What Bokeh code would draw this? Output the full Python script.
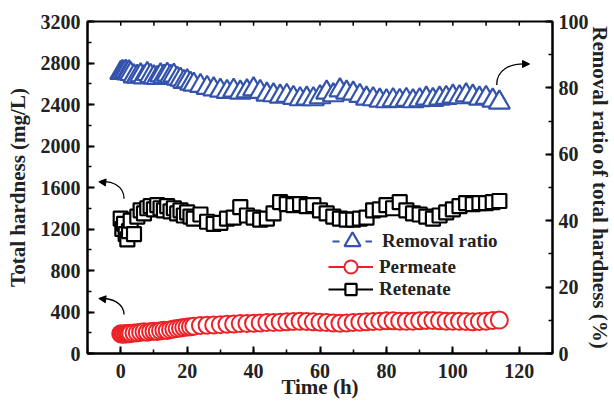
from bokeh.plotting import figure
from bokeh.models import (Range1d, LinearAxis, SingleIntervalTicker, Legend, LegendItem,
                          Arrow, NormalHead)
from bokeh.embed import file_html
from bokeh.resources import INLINE

# ---------------- data ----------------
time_h = [0, 0.5, 1, 1.5, 2, 2.5, 3, 4, 5, 6, 7, 8, 9, 10, 11, 12, 13, 14, 15, 16,
          17, 18, 19, 20, 21, 22, 24, 26, 28, 30, 32, 34, 36, 38, 40, 42, 44, 46, 48,
          50, 52, 54, 56, 58, 60, 62, 64, 66, 68, 70, 72, 74, 76, 78, 80, 82, 84, 86,
          88, 90, 92, 94, 96, 98, 100, 102, 104, 106, 108, 110, 112, 114]

removal_ratio = [84.5, 84.8, 84.6, 84.9, 84.4, 84.7, 84.2, 83.5, 83.4, 83.8, 83.2, 84.2,
                 83.6, 83.2, 83.0, 83.8, 83.4, 84.0, 83.4, 83.7, 82.8, 82.5, 81.8, 82.0,
                 81.3, 81.0,
                 80.6, 80.0, 79.6, 79.2, 78.8, 79.2, 78.6, 79.0, 79.6, 78.8, 78.0, 77.8,
                 77.4, 77.6, 77.0, 76.6, 76.8, 76.6, 77.2, 78.6, 77.8, 79.3, 78.6, 78.3,
                 77.6, 76.8, 76.6, 76.2, 76.0, 76.3, 76.1, 76.4, 76.0, 76.3, 76.8, 76.4,
                 76.8, 77.0, 77.4, 77.2, 77.8, 77.4, 76.8, 77.0, 76.2, 75.6]

permeate = [190, 185, 190, 188, 192, 190, 195, 198, 200, 205, 210, 205, 212, 215, 212,
            220, 225, 222, 230, 235, 240, 245, 250, 255, 258, 262,
            270, 272, 275, 278, 282, 285, 288, 290, 292, 295, 298, 300, 302, 305, 308,
            310, 308, 305, 302, 298, 295, 292, 295, 300, 302, 305, 308, 312, 315, 315,
            312, 310, 312, 315, 318, 318, 315, 312, 312, 310, 308, 305, 308, 312, 318, 322]

retenate = [1300, 1200, 1250, 1150, 1100, 1180, 1280, 1150, 1320, 1380, 1350, 1400, 1420,
            1390, 1430, 1400, 1380, 1420, 1370, 1400, 1350, 1380, 1330, 1360, 1320, 1300,
            1340, 1270, 1250, 1260, 1300, 1310, 1410, 1330, 1310, 1290, 1300, 1350, 1460,
            1440, 1430, 1440, 1420, 1430, 1380, 1350, 1320, 1300, 1290, 1290, 1300, 1310,
            1380, 1390, 1430, 1400, 1460, 1380, 1350, 1340, 1320, 1300, 1330, 1360, 1390,
            1420, 1450, 1440, 1450, 1450, 1460, 1470]

labels = ["Removal ratio", "Permeate", "Retenate"]

# tick values of the (label-less) top frame edge
top_ticks = [-10, 0, 10, 20, 30, 40, 50, 60, 70, 80, 90, 100, 110, 120, 130]

# annotation arrows (curve start, controls, end) in data units
arrow_left_x = [[1.0, 1.0, -2.6, -6.3], [1.0, 1.0, -2.6, -6.3]]
arrow_left_y = [[1492, 1617, 1665, 1655], [375, 481, 539, 529]]
arrow_right_x = [113.2, 113.2, 117.0, 122.6]
arrow_right_y = [80.9, 85.4, 87.5, 87.2]

BLUE = "#3453ab"
RED = "#ec2127"
BLACK = "#000000"
FONT = "Liberation Serif"

p = figure(width=614, height=401, output_backend="svg", toolbar_location=None,
           x_range=Range1d(-10, 130), y_range=Range1d(0, 3200),
           min_border_left=87, min_border_right=62, min_border_top=21, min_border_bottom=47,
           background_fill_color="white", border_fill_color="white")
p.extra_y_ranges = {"ratio": Range1d(0, 100)}
p.xgrid.visible = False
p.ygrid.visible = False
p.outline_line_color = "black"
p.outline_line_width = 2


def style_axis(ax, interval, nminor, title=None, title_size="21px"):
    ax.ticker = SingleIntervalTicker(interval=interval, num_minor_ticks=nminor)
    ax.axis_line_width = 2
    ax.axis_line_color = "black"
    ax.major_tick_in = 7
    ax.major_tick_out = 0
    ax.minor_tick_in = 4
    ax.minor_tick_out = 0
    ax.major_tick_line_width = 2
    ax.minor_tick_line_width = 1.5
    ax.major_label_text_font = FONT
    ax.major_label_text_font_style = "bold"
    ax.major_label_text_font_size = "20px"
    ax.major_label_text_color = "#222222"
    if title:
        ax.axis_label = title
        ax.axis_label_text_font = FONT
        ax.axis_label_text_font_style = "bold"
        ax.axis_label_text_font_size = title_size
        ax.axis_label_text_color = "#222222"


xax = p.xaxis[0]
style_axis(xax, 20, 2, "Time (h)")
xax.major_label_standoff = 10
xax.axis_label_standoff = -6

yax = p.yaxis[0]
style_axis(yax, 400, 2, "Total hardness (mg/L)")
yax.major_label_standoff = 7
yax.axis_label_standoff = 8

rax = LinearAxis(y_range_name="ratio")
style_axis(rax, 20, 2, "Removal ratio of total hardness (%)", "21px")
rax.major_label_standoff = 6
rax.axis_label_standoff = -4
p.add_layout(rax, "right")

# ---------------- top frame ticks ----------------
p.segment(x0=top_ticks, y0=[3200] * len(top_ticks), x1=top_ticks,
          y1=[3160] * len(top_ticks), line_color="black", line_width=1.5)

# ---------------- series ----------------
l_ratio = p.line(time_h, removal_ratio, y_range_name="ratio", line_color=BLUE,
                 line_width=2, line_dash="7 26")
s_ratio = p.scatter(time_h, removal_ratio, y_range_name="ratio", marker="triangle",
                    size=21, line_color=BLUE, line_width=2.2, fill_color="white")

l_perm = p.line(time_h, permeate, line_color=RED, line_width=2)
s_perm = p.scatter(time_h, permeate, marker="circle", size=17, line_color=RED,
                   line_width=2, fill_color="white")

l_ret = p.line(time_h, retenate, line_color=BLACK, line_width=2)
s_ret = p.scatter(time_h, retenate, marker="square", size=14, line_color=BLACK,
                  line_width=2.2, fill_color="white")

# ---------------- arrows ----------------
for ax_, ay_ in zip(arrow_left_x, arrow_left_y):
    p.bezier(x0=[ax_[0]], y0=[ay_[0]], cx0=[ax_[1]], cy0=[ay_[1]],
             cx1=[ax_[2]], cy1=[ay_[2]], x1=[ax_[3]], y1=[ay_[3]],
             line_color="black", line_width=1.3)
    p.add_layout(Arrow(end=NormalHead(size=7, fill_color="black", line_color="black"),
                       x_start=ax_[3] + 0.8, y_start=ay_[3] - 3,
                       x_end=ax_[3] - 0.3, y_end=ay_[3] + 1,
                       line_color="black", line_width=1.3))

p.bezier(x0=[arrow_right_x[0]], y0=[arrow_right_y[0]], cx0=[arrow_right_x[1]],
         cy0=[arrow_right_y[1]], cx1=[arrow_right_x[2]], cy1=[arrow_right_y[2]],
         x1=[arrow_right_x[3]], y1=[arrow_right_y[3]], y_range_name="ratio",
         line_color="black", line_width=1.3)
p.add_layout(Arrow(end=NormalHead(size=7, fill_color="black", line_color="black"),
                   x_start=arrow_right_x[3] - 0.8, y_start=arrow_right_y[3],
                   x_end=arrow_right_x[3] + 0.5, y_end=arrow_right_y[3],
                   y_range_name="ratio", line_color="black", line_width=1.3))

# ---------------- legends ----------------
def make_legend(label, rends, loc, gw, gh, standoff):
    return Legend(items=[LegendItem(label=label, renderers=rends)], location=loc,
                  glyph_width=gw, glyph_height=gh, label_standoff=standoff,
                  padding=0, margin=0, spacing=0, background_fill_alpha=0,
                  border_line_alpha=0, label_text_font=FONT,
                  label_text_font_style="bold", label_text_font_size="19px",
                  label_text_color="#222222")


p.add_layout(make_legend(labels[0], [l_ratio, s_ratio], (245, 92), 40, 40, 10))
p.add_layout(make_legend(labels[1], [l_perm, s_perm], (241, 70), 45, 33, 6))
p.add_layout(make_legend(labels[2], [l_ret, s_ret], (241, 50), 45, 28, 6))

open("out.html", "w").write(file_html(p, INLINE))
